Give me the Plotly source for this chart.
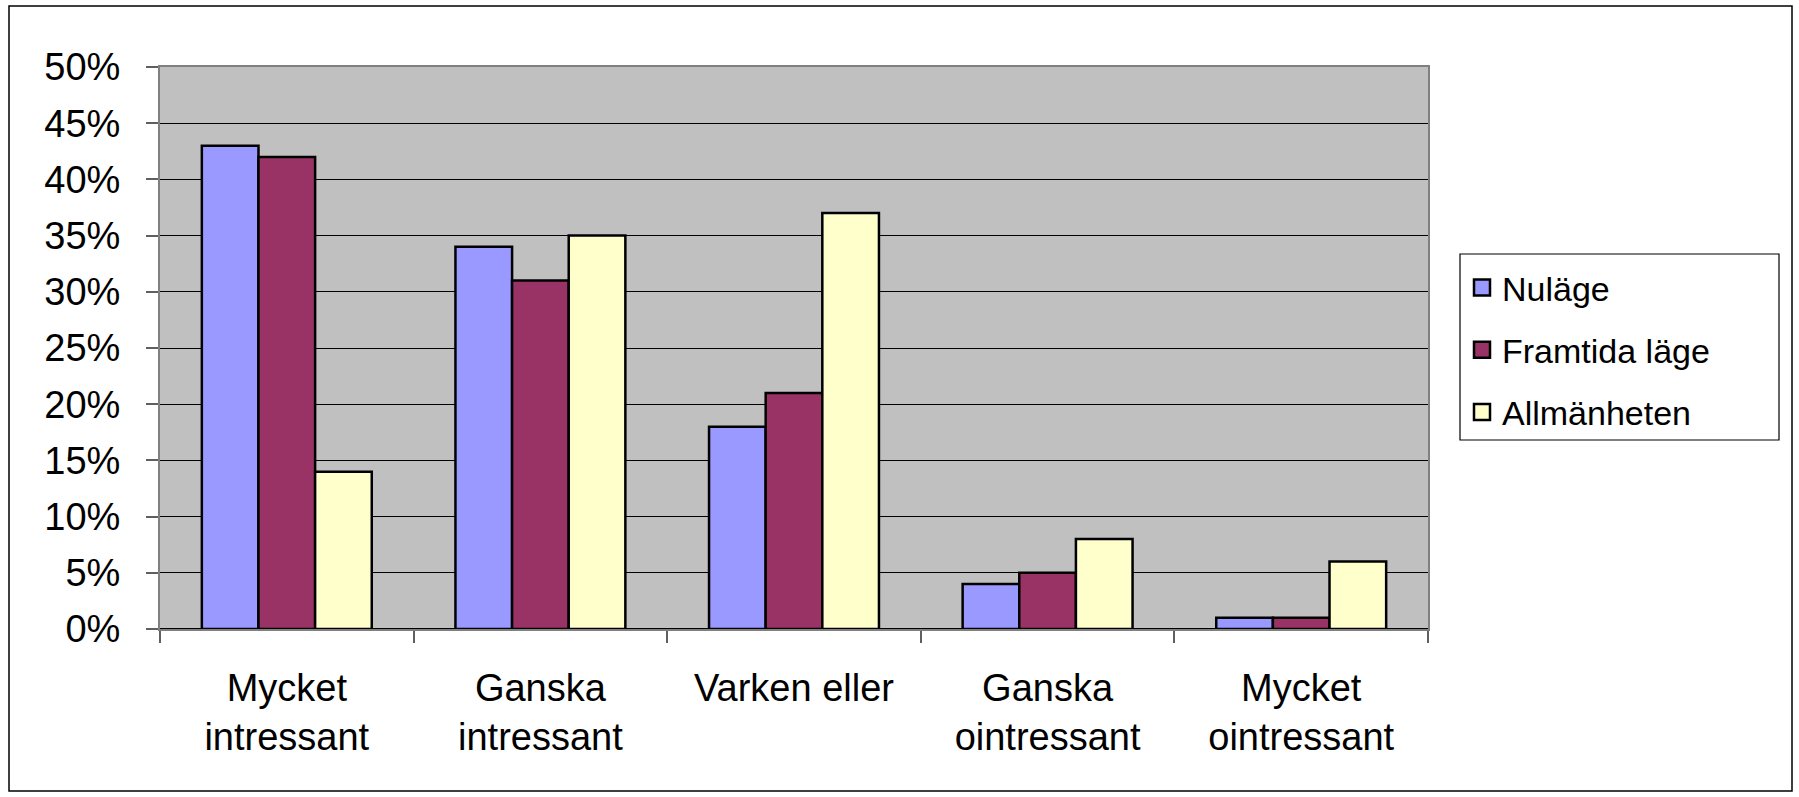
import plotly.graph_objects as go

categories = ["Mycket<br>intressant", "Ganska<br>intressant", "Varken eller",
              "Ganska<br>ointressant", "Mycket<br>ointressant"]
series_names = ["Nuläge", "Framtida läge", "Allmänheten"]
nulage = [43, 34, 18, 4, 1]
framtida = [42, 31, 21, 5, 1]
allmanheten = [14, 35, 37, 8, 6]
colors = ["#9999FF", "#993366", "#FFFFCC"]
y_ticks = [0, 5, 10, 15, 20, 25, 30, 35, 40, 45, 50]
y_ticktext = [f"{v}%" for v in y_ticks]

W, H = 1799, 797
L, R, T, B = 160, 1428, 67, 629

fig = go.Figure()
for i, (name, vals) in enumerate(zip(series_names, [nulage, framtida, allmanheten])):
    fig.add_trace(go.Bar(
        x=categories, y=vals, name=name, legendgroup=name, showlegend=False,
        marker=dict(color=colors[i], line=dict(color="black", width=2.5)),
    ))
# legend entries with larger square swatches
for i, name in enumerate(series_names):
    fig.add_trace(go.Scatter(
        x=[None], y=[None], mode="markers", name=name, legendgroup=name,
        marker=dict(symbol="square", size=20, color=colors[i],
                    line=dict(color="black", width=2.5)),
        hoverinfo="skip",
    ))

font_fam = "Arial, 'Liberation Sans', sans-serif"
pw, ph = R - L, B - T

def px2x(px):
    return (px - L) / pw

def py2y(py):
    return (B - py) / ph

fig.update_layout(
    width=W, height=H,
    margin=dict(l=L, r=W - R, t=T, b=H - B, pad=0),
    paper_bgcolor="white", plot_bgcolor="#C0C0C0",
    barmode="group", bargap=0.33, bargroupgap=0,
    font=dict(family=font_fam, color="black", size=38),
    showlegend=True,
    legend=dict(
        x=px2x(1462), y=py2y(259), xanchor="left", yanchor="top",
        borderwidth=0, bgcolor="rgba(0,0,0,0)",
        font=dict(size=34, family=font_fam), tracegroupgap=15,
        itemclick=False, itemsizing="trace",
    ),
    shapes=[
        dict(type="rect", xref="paper", yref="paper",
             x0=px2x(9), x1=px2x(1792), y0=py2y(791), y1=py2y(6),
             line=dict(color="black", width=1.5), fillcolor="rgba(0,0,0,0)",
             layer="below"),
        dict(type="rect", xref="paper", yref="paper",
             x0=px2x(1460), x1=px2x(1779), y0=py2y(440), y1=py2y(254),
             line=dict(color="black", width=1.2), fillcolor="white",
             layer="below"),
    ],
)
fig.update_xaxes(
    type="category", tickson="boundaries", ticks="outside", ticklen=12,
    tickcolor="#606060", tickwidth=1.5, showline=True, linecolor="#808080",
    linewidth=2, mirror=True, showgrid=False,
    tickfont=dict(size=38, family=font_fam), ticklabelstandoff=24,
)
fig.update_yaxes(
    range=[0, 50], tickmode="array", tickvals=y_ticks, ticktext=y_ticktext,
    ticks="outside", ticklen=12,
    tickcolor="#606060", tickwidth=1.5, showline=True, linecolor="#808080",
    linewidth=2, mirror=True, showgrid=True, gridcolor="black", gridwidth=1.2,
    zeroline=True, zerolinecolor="black", zerolinewidth=1.5,
    tickfont=dict(size=38, family=font_fam), ticklabelstandoff=18,
)
fig.write_html("out.html", config={"displayModeBar": False},
               post_script="document.body.style.margin='0px';")
